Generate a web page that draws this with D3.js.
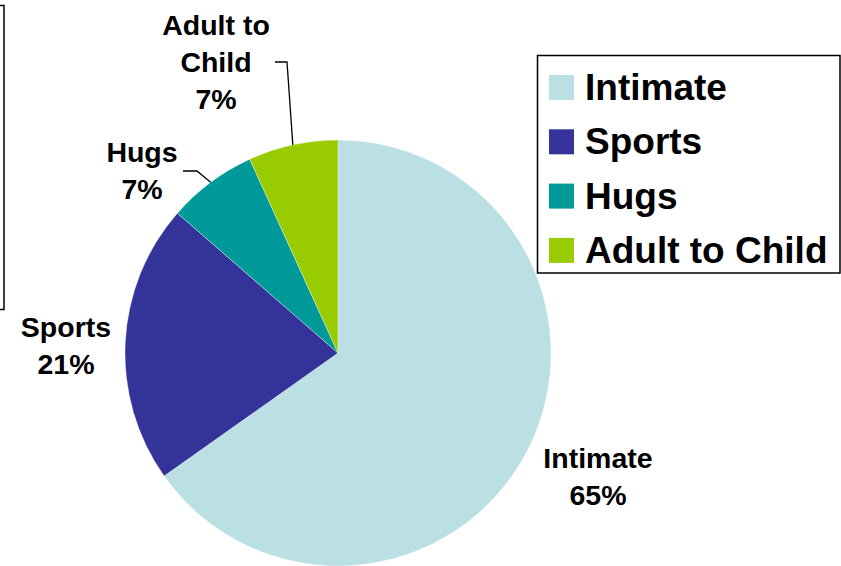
<!DOCTYPE html>
<html>
<head>
<meta charset="utf-8">
<script src="https://cdn.jsdelivr.net/npm/d3@7"></script>
<style>
  html, body { margin: 0; padding: 0; background: #fff; }
  svg { display: block; }
  text { font-family: "Liberation Sans", Arial, sans-serif; font-weight: bold; fill: #000; }
</style>
</head>
<body>
<script>
// ---- data ----
const categories = ["Intimate", "Sports", "Hugs", "Adult to Child"];
const values = [65.2, 21.2, 6.8, 6.8];
const colors = ["#BBE0E3", "#333399", "#009999", "#99CC00"];
// label text lines (category split as shown in the chart)
const labelLines = [["Intimate"], ["Sports"], ["Hugs"], ["Adult to", "Child"]];

// ---- layout ----
const W = 841, H = 566;
const cx = 338, cy = 353, R = 213;
// label placements: centre x, first-baseline y
const labelPos = [
  { x: 598, y: 468 },
  { x: 66, y: 337 },
  { x: 142, y: 162 },
  { x: 216, y: 35 }
];
// leader line start points (label side), null = no leader
const leaderStart = [null, null, { x: 183, y: 171, ex: 197 }, { x: 275, y: 62, ex: 287 }];

const svg = d3.select("body").append("svg").attr("width", W).attr("height", H);

// partial box at left edge
svg.append("rect").attr("x", -20).attr("y", 5.5).attr("width", 24).attr("height", 304)
  .attr("fill", "none").attr("stroke", "#000").attr("stroke-width", 1.5);

const total = d3.sum(values);
const pie = d3.pie().sort(null).value(d => d).startAngle(0).endAngle(2 * Math.PI);
const arcs = pie(values);
const arc = d3.arc().innerRadius(0).outerRadius(R);
const color = d3.scaleOrdinal().domain(categories).range(colors);

const g = svg.append("g").attr("transform", `translate(${cx},${cy})`);
g.selectAll("path.slice").data(arcs).join("path")
  .attr("class", "slice")
  .attr("d", arc)
  .attr("fill", (d, i) => color(categories[i]))
  .attr("stroke", "#ffffff").attr("stroke-width", 0.6).attr("stroke-opacity", 0.6);

// leader lines
arcs.forEach((d, i) => {
  const s = leaderStart[i];
  if (!s) return;
  const mid = (d.startAngle + d.endAngle) / 2;
  const px = cx + Math.sin(mid) * R;
  const py = cy - Math.cos(mid) * R;
  svg.append("polyline")
    .attr("points", `${s.x},${s.y} ${s.ex},${s.y} ${px},${py}`)
    .attr("fill", "none").attr("stroke", "#000").attr("stroke-width", 1.3);
});

// data labels
arcs.forEach((d, i) => {
  const lines = labelLines[i].concat([Math.round(values[i] / total * 100) + "%"]);
  const t = svg.append("text")
    .attr("text-anchor", "middle")
    .attr("font-size", "28.5px");
  lines.forEach((ln, k) => {
    t.append("tspan").attr("x", labelPos[i].x).attr("y", labelPos[i].y + k * 37).text(ln);
  });
});

// legend
const lg = svg.append("g");
lg.append("rect").attr("x", 537.5).attr("y", 55.5).attr("width", 302.5).attr("height", 217.5)
  .attr("fill", "#fff").attr("stroke", "#000").attr("stroke-width", 1.5);
categories.forEach((c, i) => {
  const y = 75 + i * 54.3;
  lg.append("rect").attr("x", 549).attr("y", y).attr("width", 25).attr("height", 25)
    .attr("fill", color(c));
  lg.append("text").attr("x", 585).attr("y", y + 25).attr("font-size", "37px").text(c);
});
</script>
</body>
</html>
